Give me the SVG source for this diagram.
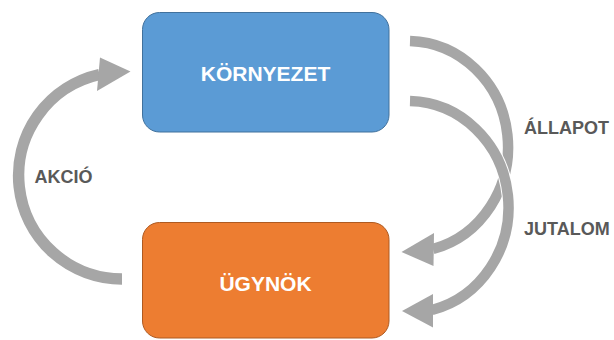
<svg xmlns="http://www.w3.org/2000/svg" width="614" height="340" viewBox="0 0 614 340">
<style>
.shaft{fill:none;stroke:#A6A6A6;stroke-linecap:butt}
.head{fill:#A6A6A6}
.ntext{font-family:"Liberation Sans",Arial,sans-serif;font-weight:bold;font-size:21px;fill:#FFFFFF;text-anchor:middle}
.lbl{font-family:"Liberation Sans",Arial,sans-serif;font-weight:bold;font-size:18px;fill:#595959}
</style>
<rect width="614" height="340" fill="#FFFFFF"/>
<g id="connectors">
  <g id="akcio">
    <path class="shaft" stroke-width="11.5" d="M122,279 A103.5,103.5 0 0 1 99.5,74.5"/>
    <polygon class="head" points="100,57.5 130.5,71.5 97,91"/>
  </g>
  <g id="allapot">
    <path class="shaft" stroke-width="10.5" d="M410,41 A101,105.8 0 0 1 433,249"/>
    <polygon class="head" points="434,233 401.5,252 433.5,266"/>
  </g>
  <g id="jutalom">
    <path d="M410,101 A101,106.1 0 0 1 432,310" fill="none" stroke="#FFFFFF" stroke-width="12.5"/>
    <path class="shaft" stroke-width="10.5" d="M410,101 A101,106.1 0 0 1 432,310"/>
    <polygon class="head" points="433,294 402,311 433,327.5"/>
  </g>
</g>
<g id="node-kornyezet">
  <rect x="142.5" y="12.5" width="246.5" height="119.5" rx="17" fill="#5B9BD5" stroke="#41719C" stroke-width="1"/>
  <text class="ntext" x="265.5" y="81">KÖRNYEZET</text>
</g>
<g id="node-ugynok">
  <rect x="142.5" y="222.5" width="246.5" height="115.5" rx="17" fill="#ED7D31" stroke="#AE5A21" stroke-width="1"/>
  <text class="ntext" x="265.5" y="291">ÜGYNÖK</text>
</g>
<g id="labels">
  <text class="lbl" x="524" y="134">ÁLLAPOT</text>
  <text class="lbl" x="524" y="235">JUTALOM</text>
  <text class="lbl" x="34.5" y="183">AKCIÓ</text>
</g>
</svg>
